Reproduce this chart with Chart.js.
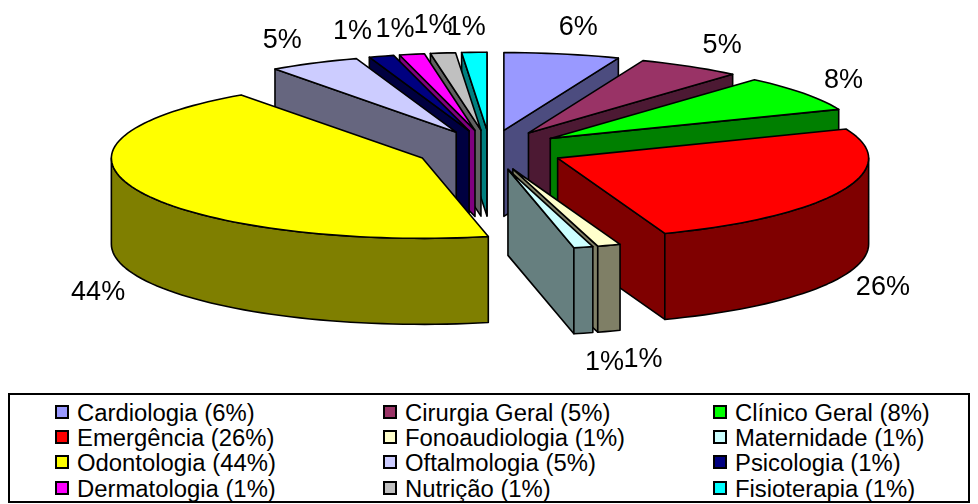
<!DOCTYPE html>
<html>
<head>
<meta charset="utf-8">
<title>Especialidades</title>
<script src="https://cdn.jsdelivr.net/npm/chart.js@4"></script>
<style>
    html, body { margin: 0; padding: 0; background: #fff; overflow: hidden; }
    #wrap { position: absolute; left: 0; top: 0; width: 978px; height: 392px; }
    #legendBox {
        position: absolute; left: 8px; top: 393px; width: 962px; height: 110px;
        border: 2px solid #000; box-sizing: border-box;
        font-family: "Liberation Sans", Arial, sans-serif; font-size: 23.85px; line-height: 25px; color: #000;
    }
    .item { position: absolute; white-space: nowrap; }
    .mark { position: absolute; left: -22px; top: 5px; width: 10px; height: 10px; border: 2px solid #000; }
</style>
</head>
<body>
<div id="wrap"><canvas id="pieChart" width="978" height="392"></canvas></div>
<div id="legendBox"></div>
<script>
const categories = ['Cardiologia', 'Cirurgia Geral', 'Clínico Geral', 'Emergência', 'Fonoaudiologia', 'Maternidade',
    'Odontologia', 'Oftalmologia', 'Psicologia', 'Dermatologia', 'Nutrição', 'Fisioterapia'];
const shares = [6.0, 5.4, 7.5, 25.5, 1.2, 1.0, 43.5, 4.7, 1.3, 1.3, 1.3, 1.3];
const colors = ['#9999FF', '#993366', '#00FF00', '#FF0000', '#FFFFCC', '#CCFFFF',
    '#FFFF00', '#CCCCFF', '#000080', '#FF00FF', '#C0C0C0', '#00FFFF'];

// label nudge from the slice rim, in px
const labelNudge = [[16, -26], [32, -21], [40, -13], [41, 11], [34, 28], [21, 29],
    [-40, 16], [-32, -23], [-29, -25], [-17, -25], [-10, -27], [-8, -25]];

const TILT_BACK = 0.25;
const TILT_FRONT = 0.258;
const EXPLODE = 74;
const EXPLODE_TILT = 0.27;
const DEPTH = 86;
const RIM_STEP = Math.PI / 90;

function darker(hex) {
    const r = parseInt(hex.slice(1, 3), 16) >> 1;
    const g = parseInt(hex.slice(3, 5), 16) >> 1;
    const b = parseInt(hex.slice(5, 7), 16) >> 1;
    return `rgb(${r},${g},${b})`;
}

function rimPoint(cx, cy, r, a) {
    const tilt = Math.sin(a) > 0 ? TILT_FRONT : TILT_BACK;
    return [cx + Math.cos(a) * r, cy + Math.sin(a) * r * tilt];
}

// rim as a polyline from a0 to a1, the direction of the angles may go either way
function traceRim(ctx, cx, cy, r, a0, a1) {
    const steps = Math.max(1, Math.ceil(Math.abs(a1 - a0) / RIM_STEP));
    for (let i = 0; i <= steps; i++) {
        const p = rimPoint(cx, cy, r, a0 + (a1 - a0) * i / steps);
        ctx.lineTo(p[0], p[1]);
    }
}

function drawSlice(ctx, arc) {
    const mid = (arc.startAngle + arc.endAngle) / 2;
    const cx = arc.x + Math.cos(mid) * EXPLODE;
    const cy = arc.y + Math.sin(mid) * EXPLODE * EXPLODE_TILT;
    const r = arc.outerRadius;
    const top = arc.options.backgroundColor;
    const side = darker(top);

    ctx.strokeStyle = '#000';
    ctx.lineWidth = 1.6;
    ctx.lineJoin = 'round';
    ctx.fillStyle = side;

    // flat side walls, only the ones that face the viewer
    [arc.startAngle, arc.endAngle].forEach(function (a, i) {
        const facing = i === 0 ? Math.cos(a) < 0 : Math.cos(a) > 0;
        if (!facing) return;
        const p = rimPoint(cx, cy, r, a);
        ctx.beginPath();
        ctx.moveTo(cx, cy);
        ctx.lineTo(p[0], p[1]);
        ctx.lineTo(p[0], p[1] + DEPTH);
        ctx.lineTo(cx, cy + DEPTH);
        ctx.closePath();
        ctx.fill();
        ctx.stroke();
    });

    // outer wall, the lower half of the rim only
    const a0 = Math.max(arc.startAngle, 0);
    const a1 = Math.min(arc.endAngle, Math.PI);
    if (a1 > a0) {
        ctx.beginPath();
        traceRim(ctx, cx, cy, r, a0, a1);
        traceRim(ctx, cx, cy + DEPTH, r, a1, a0);
        ctx.closePath();
        ctx.fill();
        ctx.stroke();
    }

    ctx.fillStyle = top;
    ctx.beginPath();
    ctx.moveTo(cx, cy);
    traceRim(ctx, cx, cy, r, arc.startAngle, arc.endAngle);
    ctx.closePath();
    ctx.fill();
    ctx.stroke();
}

const pie3d = {
    id: 'pie3d',
    beforeDatasetsDraw: function (chart) {
        const ctx = chart.ctx;
        const arcs = chart.getDatasetMeta(0).data.slice();
        const total = shares.reduce((sum, val) => sum + val, 0);

        // back slices first, so the ones nearer the viewer cover them
        const order = arcs.map((arc, i) => i).sort(function (a, b) {
            const ma = (arcs[a].startAngle + arcs[a].endAngle) / 2;
            const mb = (arcs[b].startAngle + arcs[b].endAngle) / 2;
            return Math.sin(ma) - Math.sin(mb);
        });

        ctx.save();
        order.forEach(i => drawSlice(ctx, arcs[i]));

        ctx.fillStyle = '#000';
        ctx.font = '27px "Liberation Sans", Arial, sans-serif';
        ctx.textAlign = 'center';
        ctx.textBaseline = 'middle';
        arcs.forEach(function (arc, i) {
            const mid = (arc.startAngle + arc.endAngle) / 2;
            const cx = arc.x + Math.cos(mid) * EXPLODE;
            const cy = arc.y + Math.sin(mid) * EXPLODE * EXPLODE_TILT;
            const p = rimPoint(cx, cy, arc.outerRadius, mid);
            const below = Math.sin(mid) > 0 ? DEPTH : 0;
            const text = Math.round(shares[i] / total * 100) + '%';
            ctx.fillText(text, p[0] + labelNudge[i][0], p[1] + below + labelNudge[i][1]);
        });
        ctx.restore();
        return false;
    }
};

new Chart(document.getElementById('pieChart'), {
    type: 'pie',
    data: {
        labels: categories,
        datasets: [{
            data: shares,
            backgroundColor: colors,
            borderWidth: 0,
            radius: 311
        }]
    },
    options: {
        responsive: false,
        animation: false,
        layout: { padding: { left: 2, right: 0, top: 0, bottom: 92 } },
        plugins: { legend: { display: false }, tooltip: { enabled: false } }
    },
    plugins: [pie3d]
});

// Legend, three columns by four rows
const total = shares.reduce((sum, val) => sum + val, 0);
const legendBox = document.getElementById('legendBox');
const colLeft = [67, 395, 725];
const rowTop = [5, 30, 55, 81];
categories.forEach(function (name, i) {
    const item = document.createElement('div');
    item.className = 'item';
    item.style.left = colLeft[i % 3] + 'px';
    item.style.top = rowTop[Math.floor(i / 3)] + 'px';
    item.textContent = name + ' (' + Math.round(shares[i] / total * 100) + '%)';
    const mark = document.createElement('span');
    mark.className = 'mark';
    mark.style.background = colors[i];
    item.appendChild(mark);
    legendBox.appendChild(item);
});
</script>
</body>
</html>
